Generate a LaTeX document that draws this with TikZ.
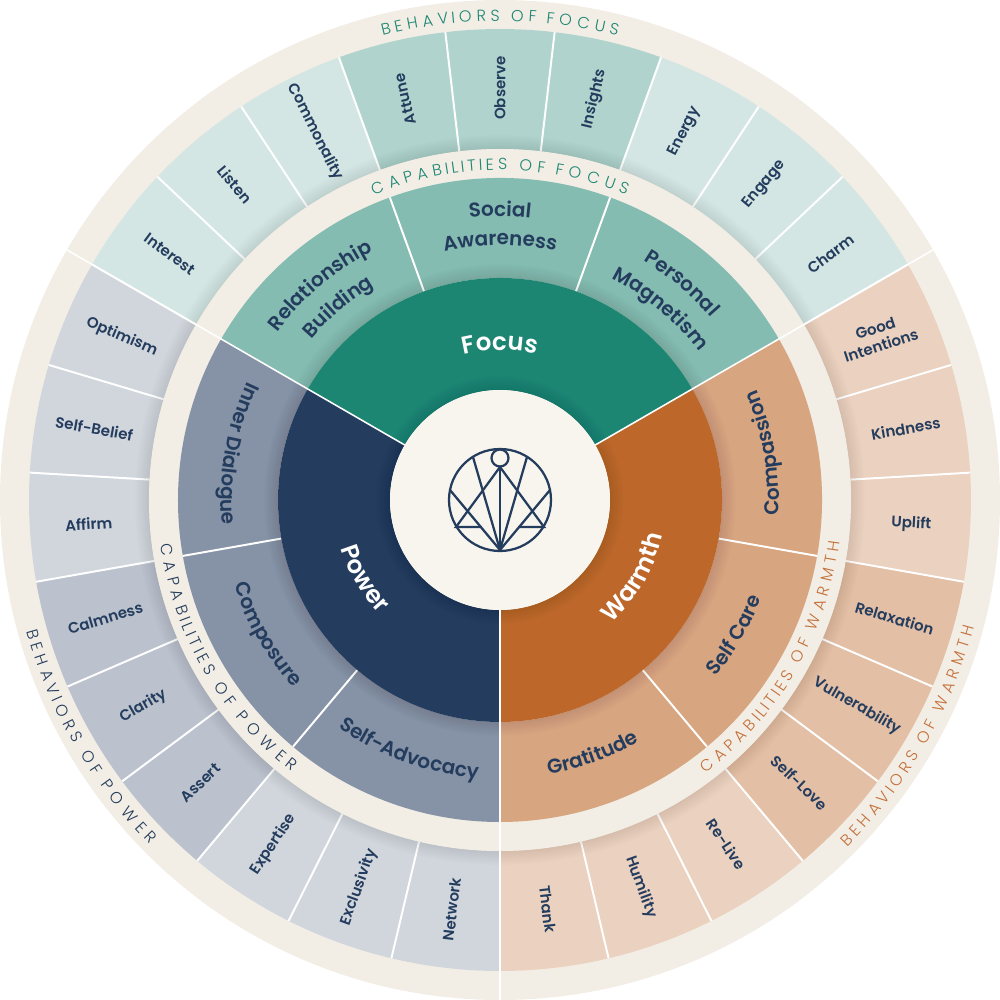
\documentclass[tikz,border=0pt]{standalone}
\usepackage{fontspec}
\usepackage{xcolor}
\usetikzlibrary{decorations.text}
\setmainfont{Poppins}
\newfontfamily\boldfont{Poppins SemiBold}
\newfontfamily\bandfont{Poppins Light}
\newcommand{\behfont}{\boldfont\fontsize{10.7}{13}\selectfont}
\newcommand{\capfont}{\boldfont\fontsize{14.2}{16}\selectfont}
\newcommand{\corefont}{\boldfont\fontsize{17.4}{20}\selectfont}
\newcommand{\capsfont}{\bandfont\fontsize{11.4}{13}\selectfont}
\definecolor{navy}{HTML}{243C5D}
\definecolor{ringc}{HTML}{F2EEE5}
\definecolor{creamc}{HTML}{F8F5EE}
\definecolor{focusA}{HTML}{1D8673}
\definecolor{focusB}{HTML}{85BCB2}
\definecolor{focusC}{HTML}{B0D4CD}
\definecolor{focusD}{HTML}{D3E6E3}
\definecolor{warmA}{HTML}{BD672B}
\definecolor{warmB}{HTML}{D7A580}
\definecolor{warmC}{HTML}{E3BFA5}
\definecolor{warmD}{HTML}{EBD1BF}
\definecolor{warmT}{HTML}{C4703A}
\definecolor{powerB}{HTML}{8693A6}
\definecolor{powerC}{HTML}{BBC2CD}
\definecolor{powerD}{HTML}{D1D6DD}
\tikzset{
    behlabel/.style={font=\behfont,text=navy,align=center,inner sep=0pt},
    sep/.style={white,line width=1.4pt},
    logoline/.style={navy,line width=1.6pt,line cap=round}
}
% sector between two radii and two angles
\newcommand{\sector}[5]{\fill[#1] (#4:#2) arc[start angle=#4,end angle=#5,radius=#2] -- (#5:#3) arc[start angle=#5,end angle=#4,radius=#3] -- cycle;}
% soft shadow round a disc
\newcommand{\ringshadow}[1]{\foreach \w in {2,4,...,20} {\draw[black,opacity=.007,line width=\w pt] (0,0) circle[radius=#1];}}
% curved text, tops outward / tops inward
\newcommand{\overarc}[5]{\path[decorate,decoration={text along path,text align=center,text={|#4|#5}}] ({#2+#3}:#1) arc[start angle={#2+#3},end angle={#2-#3},radius=#1];}
\newcommand{\underarc}[5]{\path[decorate,decoration={text along path,text align=center,text={|#4|#5}}] ({#2-#3}:#1) arc[start angle={#2-#3},end angle={#2+#3},radius=#1];}
% spaced band titles, the text fills the arc
\newcommand{\overband}[5]{\path[decorate,decoration={text effects along path,text={#5},text effects/.cd,text along path,fit text to path,characters={font=\capsfont,text=#4},character widths={font=\capsfont}}] ({#2+#3}:#1) arc[start angle={#2+#3},end angle={#2-#3},radius=#1];}
\newcommand{\underband}[5]{\path[decorate,decoration={text effects along path,text={#5},text effects/.cd,text along path,fit text to path,characters={font=\capsfont,text=#4},character widths={font=\capsfont}}] ({#2-#3}:#1) arc[start angle={#2-#3},end angle={#2+#3},radius=#1];}
\begin{document}
\begin{tikzpicture}[scale=0.025]
    \useasboundingbox (-500,-500) rectangle (500,500);
    \fill[ringc] (0,0) circle[radius=500];

    % behaviors
    \foreach \k/\c in {0/warmC,1/warmC,2/warmC,3/warmD,4/warmD,5/warmD,6/focusD,7/focusD,8/focusD,9/focusC,10/focusC,11/focusC,12/focusD,13/focusD,14/focusD,15/powerD,16/powerD,17/powerD,18/powerC,19/powerC,20/powerC,21/powerD,22/powerD,23/powerD,24/warmD,25/warmD,26/warmD} {
        \pgfmathsetmacro{\a}{-50+\k*13.3333}
        \pgfmathsetmacro{\b}{\a+13.3333}
        \sector{\c}{351}{471}{\a}{\b}
    }
    \foreach \k in {0,...,26} {
        \draw[sep] (30+\k*13.3333:351) -- (30+\k*13.3333:471);
    }
    \foreach \a/\r/\n/\t in {
        143.33/-36.67/interest/Interest, 130/-50/listen/Listen, 116.67/-63.33/commonality/Commonality,
        103.33/103.33/attune/Attune, 90/90/observe/Observe, 76.67/76.67/insights/Insights,
        63.33/63.33/energy/Energy, 50/50/engage/Engage, 36.67/36.67/charm/Charm,
        23.33/18/intentions/{Good\\Intentions}, 10/10/kindness/Kindness, -3.33/-3.33/uplift/Uplift,
        -16.67/-16.67/relaxation/Relaxation, -30/-30/vulnerability/Vulnerability, -43.33/-43.33/selflove/Self-Love,
        -56.67/-56.67/relive/Re-Live, -70/-70/humility/Humility, -83.33/-83.33/thank/Thank,
        263.33/83.33/network/Network, 250/70/exclusivity/Exclusivity, 236.67/56.67/expertise/Expertise,
        223.33/43.33/assert/Assert, 210/30/clarity/Clarity, 196.67/16.67/calmness/Calmness,
        183.33/3.33/affirm/Affirm, 170/-10/selfbelief/Self-Belief, 156.67/-23.33/optimism/Optimism} {
        \node[behlabel,rotate=\r] (\n) at (\a:412) {\t};
    }
    \ringshadow{351}

    % capabilities
    \fill[ringc] (0,0) circle[radius=351];
    \sector{focusB}{222}{322}{30}{150}
    \sector{warmB}{222}{322}{-90}{30}
    \sector{powerB}{222}{322}{150}{270}
    \foreach \a in {70,110,-10,-50,190,230} {
        \draw[sep] (\a:222) -- (\a:322);
    }
    \overarc{279}{130}{40}{\capfont\color{navy}}{Relationship}
    \overarc{248}{130}{40}{\capfont\color{navy}}{Building}
    \overarc{284}{90}{40}{\capfont\color{navy}}{Social}
    \overarc{255}{90}{40}{\capfont\color{navy}}{Awareness}
    \overarc{279}{50}{40}{\capfont\color{navy}}{Personal}
    \overarc{248}{50}{40}{\capfont\color{navy}}{Magnetism}
    \underarc{279}{10}{40}{\capfont\color{navy}}{Compassion}
    \underarc{279}{-30}{40}{\capfont\color{navy}}{Self Care}
    \underarc{279}{-70}{40}{\capfont\color{navy}}{Gratitude}
    \underarc{279}{250}{40}{\capfont\color{navy}}{Self-Advocacy}
    \underarc{279}{210}{40}{\capfont\color{navy}}{Composure}
    \underarc{279}{170}{40}{\capfont\color{navy}}{Inner Dialogue}
    \ringshadow{222}

    % band titles
    \overband{479}{90}{14.2}{focusA}{BEHAVIORS OF FOCUS}
    \overband{330}{90}{22.5}{focusA}{CAPABILITIES OF FOCUS}
    \underband{491}{-30}{15}{warmT}{BEHAVIORS OF WARMTH}
    \underband{342}{-30}{23}{warmT}{CAPABILITIES OF WARMTH}
    \underband{491}{210}{14.5}{navy}{BEHAVIORS OF POWER}
    \underband{342}{210}{22.5}{navy}{CAPABILITIES OF POWER}

    % core
    \sector{focusA}{110}{222}{30}{150}
    \sector{warmA}{110}{222}{-90}{30}
    \sector{navy}{110}{222}{150}{270}
    \overarc{150}{90}{40}{\corefont\color{white}}{Focus}
    \underarc{166}{-30}{40}{\corefont\color{white}}{Warmth}
    \underarc{166}{210}{40}{\corefont\color{white}}{Power}
    \ringshadow{110}
    \foreach \a in {30,150,270} {
        \draw[white,line width=1.1pt] (\a:110) -- (\a:500);
    }

    % logo
    \fill[creamc] (0,0) circle[radius=110];
    \draw[logoline] (0,0) circle[radius=51];
    \draw[logoline] (0,42) circle[radius=8.5];
    \coordinate (foot) at (0,-50);
    \coordinate (neck) at (0,33);
    \draw[logoline] (foot) -- (neck);
    \draw[logoline] (foot) -- (-27,43);
    \draw[logoline] (foot) -- (27,43);
    \draw[logoline] (foot) -- (-50,10);
    \draw[logoline] (foot) -- (50,10);
    \draw[logoline] (neck) -- (-44,-27) -- (-19,-27);
    \draw[logoline] (neck) -- (44,-27) -- (19,-27);
\end{tikzpicture}
\end{document}
